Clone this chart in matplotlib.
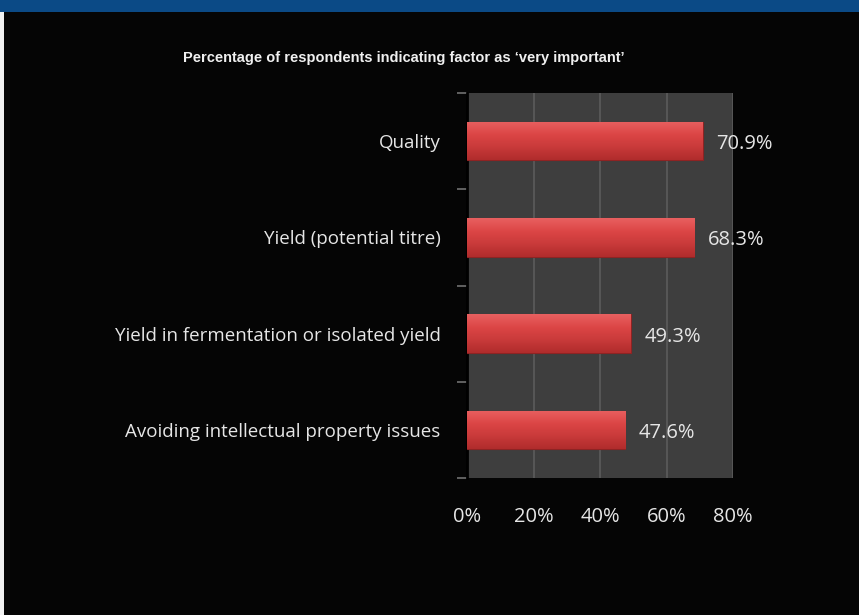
import numpy as np
import matplotlib.pyplot as plt
from matplotlib.patches import Rectangle
from matplotlib.colors import LinearSegmentedColormap

categories = ["Quality", "Yield (potential titre)",
              "Yield in fermentation or isolated yield",
              "Avoiding intellectual property issues"]
values = [70.9, 68.3, 49.3, 47.6]
xticks = [0, 20, 40, 60, 80]

title = "Percentage of respondents indicating factor as \u2018very important\u2019"
label_font = ["Open Sans", "DejaVu Sans"]

fig = plt.figure(figsize=(8.59, 6.15), dpi=100)
fig.patch.set_facecolor("#050505")

# blue banner at the top and white strip down the left side
fig.patches.append(Rectangle((0, 1 - 12 / 615), 1, 12 / 615, transform=fig.transFigure,
                             facecolor="#0b4a86", edgecolor="none", zorder=0))
fig.patches.append(Rectangle((0, 0), 4 / 859, 1 - 12 / 615, transform=fig.transFigure,
                             facecolor="#f2f2f2", edgecolor="none", zorder=0))

ax = fig.add_axes([467 / 859, 1 - 478 / 615, 266 / 859, 385 / 615])
ax.set_facecolor("#3e3e3e")

pos = list(range(len(categories)))
bars = ax.barh(pos, values, height=0.4, color="#c93838", edgecolor="#8e2323",
               linewidth=0.8, zorder=3)

# glossy vertical gradient inside each bar
shine = LinearSegmentedColormap.from_list("shine", ["#e86060", "#dc4646", "#c93a3a", "#b02c2c"])
grad = np.linspace(0, 1, 64).reshape(-1, 1)
for b in bars:
    x0, y0 = b.get_x(), b.get_y()
    im = ax.imshow(grad, cmap=shine, aspect="auto", zorder=3.5,
                   extent=[x0, x0 + b.get_width(), y0 + b.get_height(), y0])
    im.set_clip_path(b)

for p, v in zip(pos, values):
    ax.text(v + 4, p + 0.03, f"{v}%", color="#e6e6e6", va="center", ha="left",
            fontsize=14.5, family=label_font)

ax.set_xlim(0, 80)
ax.set_ylim(3.5, -0.5)
ax.set_xticks(xticks)
ax.set_xticklabels([f"{t}%" for t in xticks], color="#e6e6e6", fontsize=14.5, family=label_font)
ax.tick_params(axis="x", length=0, pad=21)
ax.set_yticks(pos)
ax.set_yticklabels(categories, color="#e6e6e6", fontsize=13.5, family=label_font)
ax.tick_params(axis="y", which="major", length=0, pad=19)
ax.set_yticks([-0.5, 0.5, 1.5, 2.5, 3.5], minor=True)
ax.tick_params(axis="y", which="minor", length=7, width=1.2, color="#707070", direction="out")

ax.grid(axis="x", color="#5c5c5c", linewidth=1.2, zorder=0)
ax.set_axisbelow(True)
for side in ["top", "right", "bottom"]:
    ax.spines[side].set_visible(False)
ax.spines["left"].set_color("#000000")
ax.spines["left"].set_linewidth(2)

fig.text(404 / 859, 1 - 58 / 615, title, color="#f0f0f0", ha="center", va="center",
         fontsize=10.5, fontweight="bold",
         family=["Liberation Sans Narrow", "Liberation Sans", "DejaVu Sans"])

fig.savefig("out.png", dpi=100, facecolor=fig.get_facecolor())
